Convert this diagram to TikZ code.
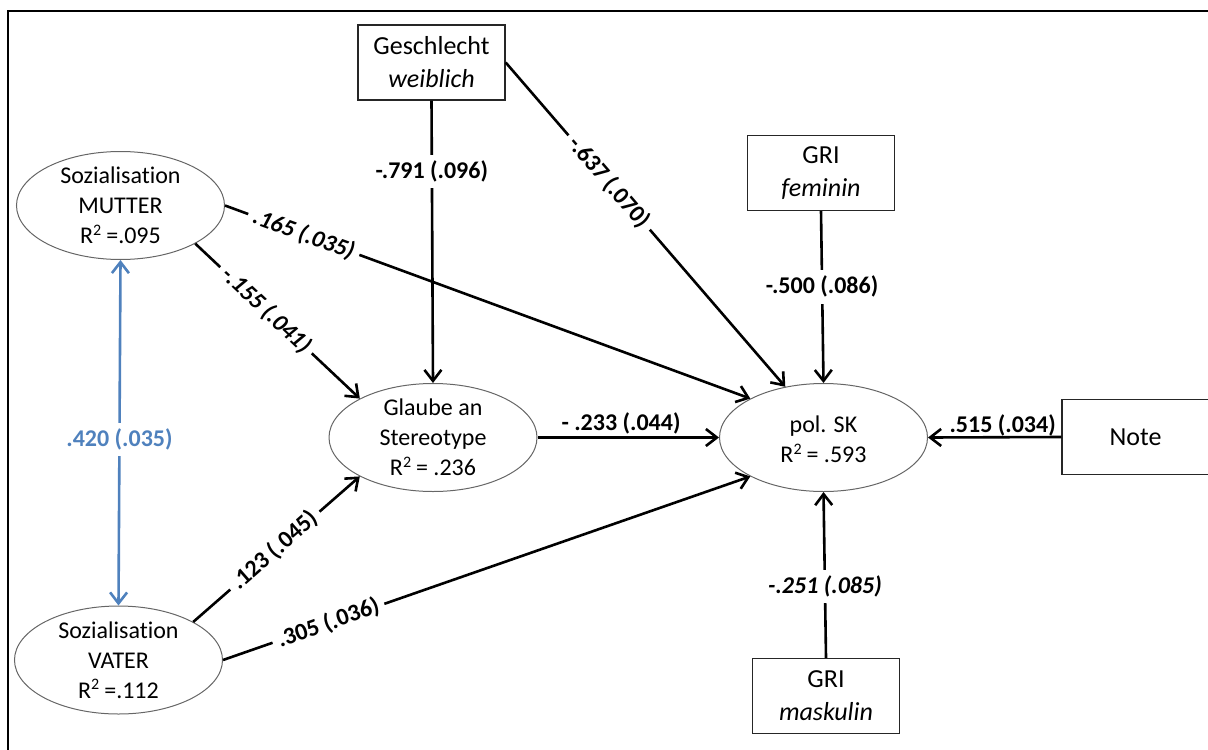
\documentclass[tikz,border=0pt]{standalone}
\usepackage{fontspec}
\setmainfont{Carlito}[Ligatures=CommonOff]
\usetikzlibrary{shapes.geometric,arrows.meta}
\definecolor{corrblue}{HTML}{4F81BD}

\begin{document}
\begin{tikzpicture}[x=0.5pt,y=-0.5pt,
  latent/.style={ellipse, draw=black!60, line width=0.5pt,
    minimum width=104pt, minimum height=54pt, inner sep=0pt},
  ltext/.style={align=center, font=\fontsize{12}{15}\selectfont, inner sep=0pt},
  manifest/.style={draw=black!85, line width=0.7pt, minimum width=73.5pt,
    minimum height=37.5pt, align=center, font=\fontsize{13}{16.5}\selectfont, inner sep=0pt},
  tip/.tip={Straight Barb[length=5.5pt,width=8.5pt]},
  effect/.style={line width=1.3pt, -tip},
  coef/.style={fill=white, font=\bfseries\fontsize{12}{14}\selectfont, inner sep=3pt},
  coefit/.style={coef, font=\bfseries\itshape\fontsize{12}{14}\selectfont},
]
\path[use as bounding box] (0,0) rectangle (1208,749);
\clip (0,0) rectangle (1208,749);

% outer frame
\draw[line width=1pt] (8,11) rectangle (1240,780);

% observed variables
\node[manifest] (sex)  at (431.5,62.5) {Geschlecht\\\textit{weiblich}};
\node[manifest] (fem)  at (821,173)    {GRI\\\textit{feminin}};
\node[manifest] (mask) at (826,696)    {GRI\\\textit{maskulin}};
\node[manifest] (note) at (1135.5,437) {Note};

% latent variables
\node[latent] (mut) at (120.5,205.5) {};
\node[ltext] (mutT) at (mut.center) {Sozialisation\\MUTTER\\R\textsuperscript{2}\,=.095};
\node[latent] (vat) at (118.5,660) {};
\node[ltext] (vatT) at (vat.center) {Sozialisation\\VATER\\R\textsuperscript{2}\,=.112};
\node[latent] (gl) at (433,437.5) {};
\node[ltext] (glT) at (gl.center) {Glaube an\\Stereotype\\R\textsuperscript{2}\,= .236};
\node[latent] (sk) at (823.5,437.5) {};
\node[ltext] (skT) at ([yshift=-1pt]sk.center) {pol. SK\\R\textsuperscript{2}\,= .593};

% structural paths
\draw[effect] (sex.south) -- node[coef,pos=0.25] {-.791 (.096)} (gl.north);
\draw[effect] (sex.east) -- node[coef,sloped,pos=0.37] {-.637 (.070)} (sk.127);
\draw[effect] (fem.south) -- node[coef,pos=0.44] {-.500 (.086)} (sk.north);
\draw[effect] (note.west) -- node[coef,fill=none,inner sep=0pt,anchor=base,yshift=2.5pt,pos=0.44] {.515 (.034)} (sk.east);
\draw[effect] (mask.north) -- node[coefit,pos=0.43] {-.251 (.085)} (sk.south);
\draw[effect] (gl.east) -- node[coef,fill=none,inner sep=0pt,anchor=base,yshift=3.5pt,pos=0.46] {- .233 (.044)} (sk.west);
\draw[effect] (mut.east) -- node[coefit,sloped,pos=0.15] {.165 (.035)} (sk.152);
\draw[effect] (mut.333) -- node[coefit,sloped,pos=0.43] {-.155 (.041)} (gl.152);
\draw[effect] (vat.27) -- node[coef,sloped,pos=0.49] {.123 (.045)} (gl.208);
\draw[effect] (vat.east) -- node[coef,sloped,pos=0.2] {.305 (.036)} (sk.208);

% correlation between the two socialisation factors
\draw[line width=1.3pt, corrblue, tip-tip] (mut.south) -- node[coef,text=corrblue,pos=0.52] {.420 (.035)} (vat.north);
\end{tikzpicture}
\end{document}
